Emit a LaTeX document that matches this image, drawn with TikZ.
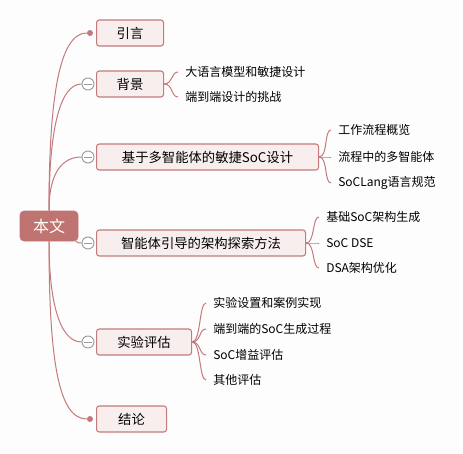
\documentclass[tikz,border=0pt]{standalone}
\usepackage{fontspec}
\setmainfont{Noto Sans CJK SC}
\definecolor{lineC}{HTML}{C47A7A}
\definecolor{boxFill}{HTML}{F8EEEE}
\definecolor{rootFill}{HTML}{C07472}
\definecolor{bgC}{HTML}{FDFDFD}
\definecolor{togC}{HTML}{9A9A9A}
\begin{document}
\begin{tikzpicture}[x=0.75pt,y=-0.75pt,
  rootbox/.style={fill=rootFill, draw=rootFill, rounded corners=3pt, minimum width=43.5pt, minimum height=22.5pt, inner sep=0pt, text=white, font=\fontsize{12}{14}\selectfont},
  topic/.style={draw=lineC, fill=boxFill, rounded corners=2pt, line width=0.8pt, minimum height=19.5pt, anchor=west, font=\fontsize{10}{12}\selectfont, inner sep=0pt},
  sub/.style={anchor=west, font=\fontsize{9}{11}\selectfont, inner xsep=5.25pt, inner ysep=0pt},
  conn/.style={draw=lineC, line width=0.75pt},
  tog/.style={circle, draw=togC, fill=white, minimum size=9pt, inner sep=0pt, line width=0.7pt},
  dotnode/.style={circle, fill=lineC, minimum size=4.5pt, inner sep=0pt}]
\fill[bgC] (0,0) rectangle (463,453);
\useasboundingbox (0,0) rectangle (463,453);

% root
\node[rootbox] (root) at (49,226) {本文};

% topics
\node[topic, minimum width=50.25pt] (t1) at (96,33) {引言};
\node[topic, minimum width=50.25pt] (t2) at (96,84) {背景};
\node[topic, minimum width=166.5pt] (t3) at (96,157) {基于多智能体的敏捷SoC设计};
\node[topic, minimum width=156.75pt] (t4) at (96,243) {智能体引导的架构探索方法};
\node[topic, minimum width=71.25pt] (t5) at (96,342) {实验评估};
\node[topic, minimum width=52.5pt] (t6) at (96,419) {结论};

% markers
\node[dotnode] (d1) at (90,33) {};
\node[tog] (g2) at (88,84) {};
\node[tog] (g3) at (88,157) {};
\node[tog] (g4) at (88,243) {};
\node[tog] (g5) at (88,342) {};
\node[dotnode] (d6) at (90,419) {};
\foreach \g in {g2,g3,g4,g5}{
  \draw[togC, line width=0.7pt] ([xshift=-3pt]\g.center) -- ([xshift=3pt]\g.center);
}

% root connectors
\draw[conn] (root.north) .. controls +(0,-110) and +(-28,0) .. (d1.west);
\draw[conn] (root.north) .. controls +(0,-80) and +(-22,0) .. (g2.west);
\draw[conn] (root.north) .. controls +(0,-40) and +(-18,0) .. (g3.west);
\draw[conn] ([xshift=-2pt]root.south east) .. controls +(3,2) and +(-3,0) .. (g4.west);
\draw[conn] (root.south) .. controls +(0,60) and +(-22,0) .. (g5.west);
\draw[conn] (root.south) .. controls +(0,120) and +(-28,0) .. (d6.west);

% children
\node[sub] (c21) at (178,72) {大语言模型和敏捷设计};
\node[sub] (c22) at (178,97) {端到端设计的挑战};

\node[sub] (c31) at (331,130) {工作流程概览};
\node[sub] (c32) at (331,157) {流程中的多智能体};
\node[sub] (c33) at (331,183) {SoCLang语言规范};

\node[sub] (c41) at (319,217) {基础SoC架构生成};
\node[sub] (c42) at (319,243) {SoC DSE};
\node[sub] (c43) at (319,268) {DSA架构优化};

\node[sub] (c51) at (206,303) {实验设置和案例实现};
\node[sub] (c52) at (206,329) {端到端的SoC生成过程};
\node[sub] (c53) at (206,355) {SoC增益评估};
\node[sub] (c54) at (206,380) {其他评估};

\foreach \c in {c21,c22}{\draw[conn] (t2.east) .. controls +(9,0) and +(-7,0) .. (\c.west);}
\foreach \c in {c31,c32,c33}{\draw[conn] (t3.east) .. controls +(9,0) and +(-7,0) .. (\c.west);}
\foreach \c in {c41,c42,c43}{\draw[conn] (t4.east) .. controls +(9,0) and +(-7,0) .. (\c.west);}
\foreach \c in {c51,c52,c53,c54}{\draw[conn] (t5.east) .. controls +(9,0) and +(-7,0) .. (\c.west);}
\end{tikzpicture}
\end{document}
